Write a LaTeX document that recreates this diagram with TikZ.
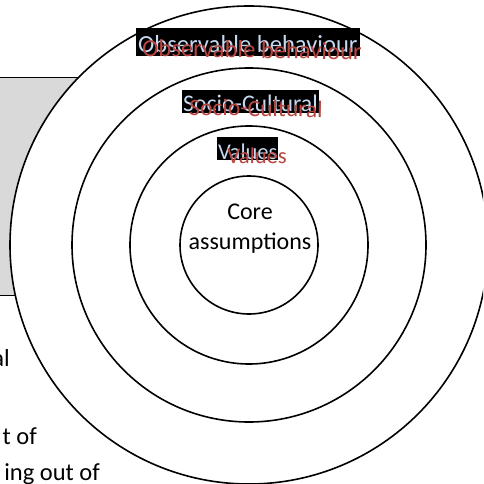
\documentclass[tikz,border=0pt]{standalone}
\usepackage{fontspec}
\setmainfont{Carlito}
\definecolor{markBlue}{HTML}{C6D9F1}
\definecolor{markRed}{HTML}{B8453F}
\definecolor{panelGray}{HTML}{D9D9D9}

\begin{document}
\begin{tikzpicture}
[x=1pt,y=-1pt,%
  ringDecorate/.style={shape=circle,draw,line width=1.6pt,fill=white,inner sep=0pt},%
  markBox/.style={fill=black,text=markBlue,anchor=base west,inner xsep=1pt,inner ysep=0pt,%
    text height=22pt,text depth=1pt,font=\fontsize{#1}{28}\selectfont},%
  ghostText/.style={text=markRed,anchor=base west,inner sep=0pt,rotate=-1,%
    font=\fontsize{#1}{28}\selectfont},%
  pageText/.style={anchor=base east,inner sep=0pt,font=\fontsize{24.5}{28}\selectfont}]
\useasboundingbox (0,0) rectangle (483,484);
\clip (0,0) rectangle (483,484);
%% grey panel behind the rings
\path[fill=panelGray,draw=black,line width=1pt] (-10,78) rectangle (249,295);
%% text of the page, cut at the left edge
\node (line1) at (10,366) [pageText] {al};
\node (line2) at (37,444) [pageText] {t of};
\node (line3) at (100,480) [pageText] {ing out of};
%% rings
\foreach \ringname/\r in {outer/239, social/177, value/119, core/69}
{
  \node (\ringname) at (249,245) [ringDecorate,minimum size=2*\r pt] {};
}
\node (coretext) at (250,229) [align=center,inner sep=0pt,font=\fontsize{24}{30}\selectfont] {Core\\assumptions};
%% highlighted labels
\node (obs) at (136,53) [markBox=24.6,text height=25pt,text depth=3pt,inner xsep=2pt] {Observable behaviour};
\node (socio) at (182,112) [markBox=23.8] {Socio-Cultural};
\node (values) at (217,159) [markBox=22.5] {Values};
\foreach \labelname/\x/\y/\size/\txt in {obs/142/56/24.6/Observable behaviour,
  socio/189/115/23.6/Socio-Cultural, values/227/163/22.6/Values}
{
  \node (\labelname red) at (\x,\y) [ghostText=\size] {\txt};
}
\end{tikzpicture}
\end{document}
